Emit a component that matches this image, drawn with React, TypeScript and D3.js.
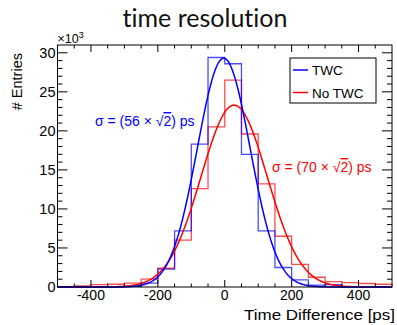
import React from "react";
import * as d3 from "d3";

// bin lower edges, 50 ps wide
const binEdges = d3.range(-500, 500, 50);
const binWidth = 50;

// entries per bin
const twcCounts = [0, 0, 0, 0, 80, 500, 2300, 7200, 18300, 29400, 28600, 17000, 7200, 2500, 900, 250, 300, 0, 0, 0];
const noTwcCounts = [0, 150, 300, 350, 500, 1000, 2400, 6000, 12600, 20500, 26500, 19600, 13200, 6500, 2900, 1250, 700, 550, 450, 350];

// gaussian fit parameters [amplitude, mean, sigma]
const twcFit = [29300, -3, 79];
const noTwcFit = [23300, 28, 99];

const xTicks = [-400, -200, 0, 200, 400];
const yTicks = [0, 5000, 10000, 15000, 20000, 25000, 30000];

const legendItems = ["TWC", "No TWC"];
const colors = ["#0000ff", "#ff0000"];

export default function App() {
    const ref = React.useRef<SVGSVGElement>(null);

    React.useEffect(() => {
        drawChart();
    }, []);

    function drawChart() {
        const width = 397;
        const height = 325;
        const margin = { top: 45, right: 5, bottom: 38, left: 57.5 };
        const svg = d3.select(ref.current);
        svg.selectAll("*").remove();

        const x = d3.scaleLinear().domain([-500, 500]).range([margin.left, width - margin.right]);
        const y = d3.scaleLinear().domain([0, 31000]).range([height - margin.bottom, margin.top]);
        const font = "'Liberation Sans', Arial, sans-serif";

        const x0 = margin.left, x1 = width - margin.right;
        const y0 = height - margin.bottom, y1 = margin.top;

        // histograms as step outlines
        function histPath(counts: number[]) {
            let p = `M${x(binEdges[0])},${y(0)}`;
            counts.forEach((c, i) => {
                p += `L${x(binEdges[i])},${y(c)}L${x(binEdges[i] + binWidth)},${y(c)}`;
            });
            p += `L${x(binEdges[binEdges.length - 1] + binWidth)},${y(0)}`;
            return p;
        }
        [noTwcCounts, twcCounts].forEach((counts, k) => {
            svg.append("path")
                .attr("d", histPath(counts))
                .attr("fill", "none")
                .attr("stroke", k === 0 ? colors[1] : colors[0])
                .attr("stroke-opacity", 0.7)
                .attr("stroke-width", 1.3);
        });

        // fitted gaussians
        const line = d3.line<number[]>().x((d) => x(d[0])).y((d) => y(d[1]));
        [noTwcFit, twcFit].forEach((f, k) => {
            const pts = d3.range(-500, 500.1, 2).map((t) => [t, f[0] * Math.exp(-0.5 * ((t - f[1]) / f[2]) ** 2)]);
            svg.append("path")
                .attr("d", line(pts))
                .attr("fill", "none")
                .attr("stroke", k === 0 ? colors[1] : colors[0])
                .attr("stroke-width", 1.5);
        });

        // frame
        svg.append("rect")
            .attr("x", x0).attr("y", y1)
            .attr("width", x1 - x0).attr("height", y0 - y1)
            .attr("fill", "none").attr("stroke", "#000").attr("stroke-width", 1);

        // x ticks (major every 200, minor every 50), inward top and bottom
        d3.range(-450, 500, 50).forEach((t) => {
            const major = t % 200 === 0;
            const len = major ? 7 : 3.5;
            svg.append("line").attr("x1", x(t)).attr("x2", x(t)).attr("y1", y0).attr("y2", y0 - len).attr("stroke", "#000");
            svg.append("line").attr("x1", x(t)).attr("x2", x(t)).attr("y1", y1).attr("y2", y1 + len).attr("stroke", "#000");
        });
        // y ticks (major every 5k, minor every 1k)
        d3.range(1000, 31000, 1000).forEach((t) => {
            const major = t % 5000 === 0;
            const len = major ? 10 : 5;
            svg.append("line").attr("x1", x0).attr("x2", x0 + len).attr("y1", y(t)).attr("y2", y(t)).attr("stroke", "#000");
            svg.append("line").attr("x1", x1).attr("x2", x1 - len).attr("y1", y(t)).attr("y2", y(t)).attr("stroke", "#000");
        });

        // tick labels
        svg.append("g").selectAll("text").data(xTicks).enter().append("text")
            .attr("x", (d) => x(d)).attr("y", y0 + 13)
            .attr("text-anchor", "middle")
            .attr("font-family", font).attr("font-size", 14)
            .text((d) => d);
        svg.append("g").selectAll("text").data(yTicks).enter().append("text")
            .attr("x", x0 - 2).attr("y", (d) => y(d) + 5)
            .attr("text-anchor", "end")
            .attr("font-family", font).attr("font-size", 14.5)
            .text((d) => d / 1000);

        // exponent
        const ex = svg.append("text").attr("x", x0).attr("y", y1 - 2)
            .attr("font-family", font).attr("font-size", 12.5);
        ex.append("tspan").text("\u00d710");
        ex.append("tspan").attr("dy", -5).attr("font-size", 9).text("3");

        // axis titles
        svg.append("text")
            .attr("x", 395).attr("y", 319.5)
            .attr("text-anchor", "end")
            .attr("font-family", font).attr("font-size", 15.5)
            .attr("textLength", 151)
            .attr("lengthAdjust", "spacingAndGlyphs")
            .text("Time Difference [ps]");
        svg.append("text")
            .attr("transform", `translate(22,${y1 + 8}) rotate(-90)`)
            .attr("text-anchor", "end")
            .attr("font-family", font).attr("font-size", 14.5)
            .text("# Entries");

        // title
        svg.append("text")
            .attr("x", 205).attr("y", 27)
            .attr("text-anchor", "middle")
            .attr("font-family", "Lato, 'Open Sans', sans-serif").attr("font-size", 25)
            .style("font-variant-ligatures", "none")
            .attr("fill", "#111")
            .text("time resolution");

        // sigma annotations
        function sigmaLabel(px: number, py: number, s: number, color: string) {
            const t = svg.append("text").attr("x", px).attr("y", py)
                .attr("font-family", font).attr("font-size", 14)
                .attr("fill", color);
            t.append("tspan").text(`\u03c3 = (${s} \u00d7 \u221a`);
            t.append("tspan").style("text-decoration", "overline").text("2");
            t.append("tspan").text(") ps");
        }
        sigmaLabel(95, 126, 56, colors[0]);
        sigmaLabel(272, 172, 70, colors[1]);

        // legend
        const lg = svg.append("g");
        lg.append("rect")
            .attr("x", 290).attr("y", 58).attr("width", 86).attr("height", 45)
            .attr("fill", "#fff").attr("stroke", "#000");
        legendItems.forEach((name, i) => {
            const ly = 70 + i * 22.5;
            lg.append("line").attr("x1", 293).attr("x2", 308).attr("y1", ly).attr("y2", ly)
                .attr("stroke", colors[i]).attr("stroke-width", 1.5);
            lg.append("text").attr("x", 312).attr("y", ly + 5)
                .attr("font-family", font).attr("font-size", 13.5)
                .text(name);
        });
    }

    return (
        <svg
            ref={ref}
            width={397}
            height={325}
            style={{ position: "absolute", left: 0, top: 0, background: "#fff" }}
        />
    );
}
